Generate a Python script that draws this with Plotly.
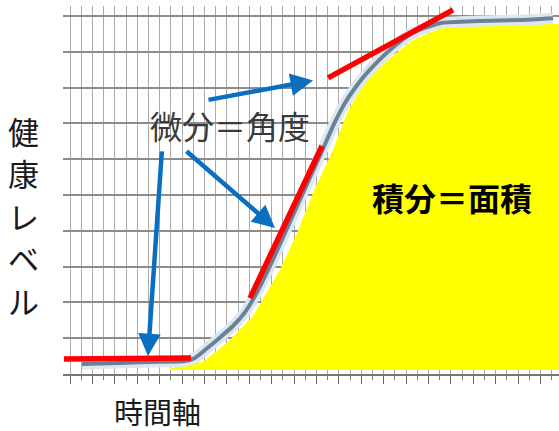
import plotly.graph_objects as go

# ---- data (x in time-grid units, y in health-level units) ----
curve_x = [1.07, 4.46, 8.04, 10.27, 11.16, 12.05, 13.13, 14.55, 15.63, 16.52, 17.86, 19.64, 22.50,
           23.66, 24.55, 25.45, 26.52, 28.57, 30.63, 33.04, 36.61, 40.18, 43.13]
curve_y = [0.28, 0.31, 0.34, 0.36, 0.45, 0.67, 0.95, 1.34, 1.73, 2.18, 3.02, 4.25, 6.23,
           7.04, 7.57, 7.99, 8.41, 9.05, 9.53, 9.80, 9.86, 9.89, 9.94]

area_x = [8.93, 8.93, 11.88, 14.02, 16.34, 16.96, 18.75, 20.27, 21.70, 23.48, 24.73, 26.52, 28.57, 30.63, 33.04, 35.45, 43.7, 43.7]
area_y = [0.11, 0.17, 0.34, 0.87, 1.62, 1.96, 2.91, 3.94, 5.06, 6.26, 7.29, 8.27, 8.83, 9.33, 9.66, 9.72, 9.78, 0.11]

tangent_x = [[-0.54, 10.8], [16.07, 22.5], [23.04, 34.2]]
tangent_y = [[0.42, 0.45], [2.12, 6.37], [8.27, 10.17]]

# arrows: (tail_x, tail_y, head_x, head_y)
arrows = [(12.23, 7.65, 21.7, 8.2), (8.21, 6.26, 6.96, 0.50), (10.27, 6.26, 18.3, 4.08)]

label_diff = "微分＝角度"
label_int = "積分＝面積"
y_title = "健康レベル"
x_title = "時間軸"

FONT = "Noto Sans CJK JP"

fig = go.Figure()

fig.add_trace(go.Scatter(x=area_x, y=area_y, fill="toself", fillcolor="#ffff00",
                         line=dict(width=0), mode="lines", hoverinfo="skip"))
fig.add_trace(go.Scatter(x=curve_x, y=curve_y, mode="lines",
                         line=dict(color="#dbe8f2", width=11, shape="spline", smoothing=0.6), hoverinfo="skip"))
fig.add_trace(go.Scatter(x=curve_x, y=curve_y, mode="lines",
                         line=dict(color="#6d8196", width=4, shape="spline", smoothing=0.6), hoverinfo="skip"))
for tx, ty in zip(tangent_x, tangent_y):
    fig.add_trace(go.Scatter(x=tx, y=ty, mode="lines",
                             line=dict(color="#ff0000", width=5.5), hoverinfo="skip"))

for ax_, ay_, hx, hy in arrows:
    fig.add_annotation(x=hx, y=hy, ax=ax_, ay=ay_, xref="x", yref="y", axref="x", ayref="y",
                       text="", showarrow=True, arrowhead=2, arrowsize=1.0,
                       arrowwidth=4.5, arrowcolor="#0b6fc1", standoff=0, startstandoff=0)

fig.add_annotation(x=14.29, y=6.96, xref="x", yref="y", text=label_diff, showarrow=False,
                   xanchor="center", yanchor="middle",
                   font=dict(family=FONT, size=32, color="#3a3a3a"))
fig.add_annotation(x=34.1, y=4.94, xref="x", yref="y", text=label_int, showarrow=False,
                   xanchor="center", yanchor="middle",
                   font=dict(family=FONT, size=32, color="#000000", weight="bold"))

# vertical y title: one character per line, 42.5 px pitch
for i, ch in enumerate(y_title):
    py = 130 + 42.5 * i
    fig.add_annotation(x=(23 - 63) / 496, y=(374 - py) / 368, xref="paper", yref="paper",
                       text=ch, showarrow=False, xanchor="center", yanchor="middle",
                       font=dict(family=FONT, size=31, color="#1a1a1a"))
fig.add_annotation(x=(157 - 63) / 496, y=(374 - 411) / 368, xref="paper", yref="paper",
                   text=x_title, showarrow=False, xanchor="center", yanchor="middle",
                   font=dict(family=FONT, size=29, color="#1a1a1a"))

# cover vertical gridlines above the top line
fig.add_shape(type="rect", xref="paper", yref="y", x0=0, x1=1, y0=10.02, y1=10.5,
              fillcolor="white", line=dict(width=0), layer="between")

fig.update_layout(
    width=559, height=431, showlegend=False,
    margin=dict(l=63, r=0, t=6, b=57),
    paper_bgcolor="white", plot_bgcolor="white",
    xaxis=dict(range=[-0.625, 43.66], dtick=2, tick0=0, showticklabels=False,
               showgrid=True, gridcolor="#ababab", gridwidth=1.2, zeroline=False,
               ticks="outside", ticklen=8, tickcolor="#666666", tickwidth=1.2,
               showline=True, linecolor="#777777", linewidth=1.5,
               minor=dict(dtick=1, tick0=0, showgrid=True, gridcolor="#ababab", gridwidth=1.2,
                          ticks="outside", ticklen=4, tickcolor="#777777")),
    yaxis=dict(range=[0, 10.28], dtick=1, tick0=0, showticklabels=False,
               showgrid=True, gridcolor="#8c8c8c", gridwidth=1.8, zeroline=False,
               showline=False, ticks=""),
)

fig.write_html("out.html", config={"displayModeBar": False},
               post_script="document.body.style.margin='0';document.body.style.overflow='hidden';")
